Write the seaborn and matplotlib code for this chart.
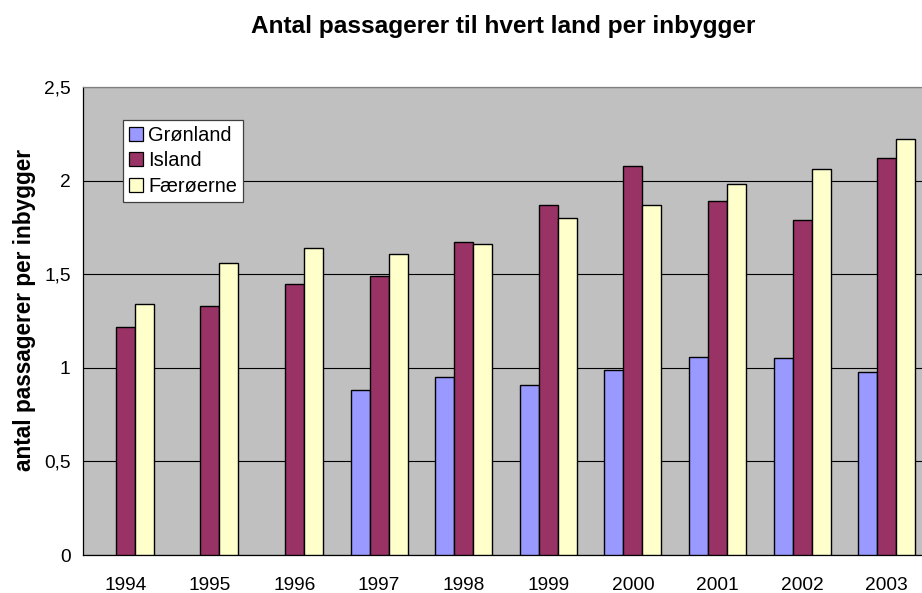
import numpy as np
import pandas as pd
import matplotlib
matplotlib.use("Agg")
import matplotlib.pyplot as plt
import seaborn as sns

years = ["1994", "1995", "1996", "1997", "1998", "1999", "2000", "2001", "2002", "2003"]
gronland = [np.nan, np.nan, np.nan, 0.88, 0.95, 0.91, 0.99, 1.06, 1.05, 0.98]
island = [1.22, 1.33, 1.45, 1.49, 1.67, 1.87, 2.08, 1.89, 1.79, 2.12]
faeroerne = [1.34, 1.56, 1.64, 1.61, 1.66, 1.80, 1.87, 1.98, 2.06, 2.22]
series_names = ["Grønland", "Island", "Færøerne"]
colors = ["#9999FF", "#993366", "#FFFFCC"]
yticks = [0, 0.5, 1, 1.5, 2, 2.5]
ytick_labels = ["0", "0,5", "1", "1,5", "2", "2,5"]

df = pd.DataFrame({
    "year": years * 3,
    "value": gronland + island + faeroerne,
    "land": [series_names[0]] * 10 + [series_names[1]] * 10 + [series_names[2]] * 10,
})

sns.set_style("white")
plt.rcParams["font.family"] = ["Liberation Sans", "DejaVu Sans"]
plt.rcParams["text.color"] = "black"
plt.rcParams["axes.labelcolor"] = "black"
plt.rcParams["xtick.color"] = "black"
plt.rcParams["ytick.color"] = "black"

W, H = 922, 593
fig = plt.figure(figsize=(W / 100, H / 100), dpi=100)
ax = fig.add_axes([83 / W, (H - 555) / H, (929 - 83) / W, (555 - 87) / H])
ax.set_facecolor("#C0C0C0")

sns.barplot(data=df, x="year", y="value", hue="land", hue_order=series_names,
            palette=colors, width=0.675, saturation=1, edgecolor="black",
            linewidth=1, ax=ax, zorder=3)

ax.set_xlim(-0.5, 9.5)
ax.set_ylim(0, 2.5)
ax.set_yticks(yticks)
ax.set_yticklabels(ytick_labels)
ax.yaxis.grid(True, color="black", linewidth=0.8, zorder=0)
ax.set_axisbelow(True)
ax.set_xticks(np.arange(-0.5, 9.6, 1), minor=False)
ax.set_xticklabels([])
ax.set_xticks(np.arange(10), minor=True)
ax.set_xticklabels(years, minor=True)
ax.tick_params(axis="x", which="major", direction="out", length=5, color="black", width=0.8)
ax.tick_params(axis="x", which="minor", length=0, pad=16, labelsize=13.8)
ax.tick_params(axis="y", direction="out", length=5, color="black", width=0.8, labelsize=13.8, pad=4)

for s in ["left", "bottom"]:
    ax.spines[s].set_color("black")
    ax.spines[s].set_linewidth(0.9)
ax.spines["top"].set_color("#808080")
ax.spines["top"].set_linewidth(0.9)
ax.spines["right"].set_visible(False)

ax.set_xlabel("")
ax.set_ylabel("antal passagerer per inbygger", fontsize=16.3, fontweight="bold")
ax.yaxis.set_label_coords(25 / W, 1 - 310 / H, transform=fig.transFigure)
ax.yaxis.label.set_va("center")
ax.yaxis.label.set_ha("center")
fig.text(503 / W, 1 - 27 / H, "Antal passagerer til hvert land per inbygger",
         ha="center", va="center", fontsize=17.6, fontweight="bold")

leg = ax.legend(loc="upper left", bbox_to_anchor=(123 / W, 1 - 120 / H),
                bbox_transform=fig.transFigure, frameon=True, fancybox=False,
                framealpha=1, edgecolor="#404040", fontsize=14.4,
                handlelength=0.7, handleheight=0.7, handletextpad=0.25,
                labelspacing=0.32, borderpad=0.3, borderaxespad=0)
leg.get_frame().set_linewidth(0.9)
for h in leg.legend_handles:
    h.set_edgecolor("black")
    h.set_linewidth(0.9)

fig.savefig("out.png", dpi=100)
